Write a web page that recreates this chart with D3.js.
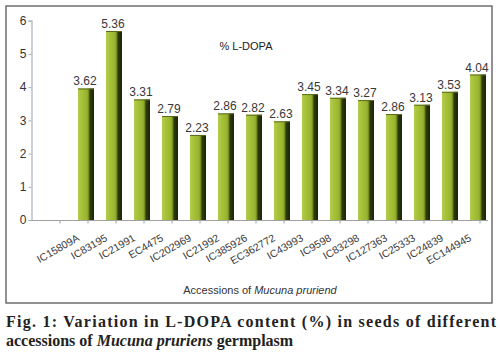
<!DOCTYPE html>
<html>
<head>
<meta charset="utf-8">
<script src="https://cdn.jsdelivr.net/npm/d3@7/dist/d3.min.js"></script>
<style>
  html, body { margin: 0; padding: 0; background: #fff; }
  svg { display: block; }
</style>
</head>
<body>
<svg id="chart" width="500" height="360"></svg>
<script>
// ---- data ----
const categories = ["", "IC15809A", "IC83195", "IC21991", "EC4475", "IC202969", "IC21992",
  "IC385926", "EC362772", "IC43993", "IC9598", "IC83298", "IC127363", "IC25333", "IC24839", "EC144945"];
// bar heights as drawn in the picture (axis units; front face of 3-D columns)
const barHeights = [null, 3.96, 5.69, 3.63, 3.13, 2.56, 3.21, 3.17, 2.97, 3.79, 3.68, 3.61, 3.19, 3.47, 3.86, 4.38];
// printed data labels
const valueLabels = [null, "3.62", "5.36", "3.31", "2.79", "2.23", "2.86", "2.82", "2.63", "3.45", "3.34", "3.27", "2.86", "3.13", "3.53", "4.04"];
const yTicks = [0, 1, 2, 3, 4, 5, 6];
const seriesName = "% L-DOPA";
const xTitle = ["Accessions of ", "Mucuna pruriend"];

const svg = d3.select("#chart");
const font = "Liberation Sans, Arial, sans-serif";

// outer frame
svg.append("rect").attr("x", 6).attr("y", 6).attr("width", 486).attr("height", 297)
  .attr("fill", "#fff").attr("stroke", "#6e6e6e").attr("stroke-width", 1.5);

const x = d3.scaleBand().domain(categories.map((c, i) => i)).range([46, 494]).padding(0);
const y = d3.scaleLinear().domain([0, 6]).range([220, 20.7]);

// gradient for bars
const defs = svg.append("defs");
const g = defs.append("linearGradient").attr("id", "barGrad").attr("x1", "0").attr("x2", "1").attr("y1", "0").attr("y2", "0");
[["0%", "#b3cc4c"], ["25%", "#a6c13a"], ["55%", "#99b42c"], ["62%", "#8aa524"], ["70%", "#5d7418"], ["74%", "#2f3c0e"], ["100%", "#1c2408"]]
  .forEach(([o, c]) => g.append("stop").attr("offset", o).attr("stop-color", c));

// y axis
const yAxis = d3.axisLeft(y).tickValues(yTicks).tickSize(3).tickPadding(2).tickFormat(d3.format("d"));
const ya = svg.append("g").attr("transform", "translate(31.5,0)").call(yAxis);
ya.select(".domain").attr("stroke", "#a9b0c0").attr("stroke-width", 1.2);
ya.selectAll(".tick line").attr("stroke", "#a9b0c0");
ya.selectAll(".tick text").attr("font-family", font).attr("font-size", 12).attr("fill", "#333");

// x axis
const xAxis = d3.axisBottom(x).tickSize(3).tickFormat("");
const xa = svg.append("g").attr("transform", "translate(0,220.5)").call(xAxis);
xa.select(".domain").remove();
xa.selectAll(".tick line").attr("stroke", "#9a9a9a");
svg.append("line").attr("x1", 31.5).attr("x2", 488).attr("y1", 220.5).attr("y2", 220.5)
  .attr("stroke", "#a0a0a0").attr("stroke-width", 1.2);

// bars
const idx = d3.range(categories.length).filter(i => barHeights[i] != null);
svg.append("g").selectAll("rect").data(idx).join("rect")
  .attr("x", i => x(i) + 4)
  .attr("width", 16)
  .attr("y", i => y(barHeights[i]))
  .attr("height", i => y(0) - y(barHeights[i]))
  .attr("fill", "url(#barGrad)");
svg.append("g").selectAll("line").data(idx).join("line")
  .attr("x1", i => x(i) + 4).attr("x2", i => x(i) + 20)
  .attr("y1", i => y(barHeights[i]) + 0.5).attr("y2", i => y(barHeights[i]) + 0.5)
  .attr("stroke", "#5a6a1c").attr("stroke-width", 1);

// value labels
svg.append("g").selectAll("text").data(idx).join("text")
  .attr("x", i => x(i) + 11)
  .attr("y", i => y(barHeights[i]) - 3)
  .attr("text-anchor", "middle")
  .attr("font-family", font).attr("font-size", 12).attr("fill", "#383838")
  .text(i => valueLabels[i]);

// category labels
svg.append("g").selectAll("text").data(idx).join("text")
  .attr("transform", i => `translate(${x(i) + x.bandwidth() / 2 - 8},240) rotate(-30)`)
  .attr("text-anchor", "end")
  .attr("font-family", font).attr("font-size", 10.5).attr("fill", "#383838")
  .text(i => categories[i]);

// series name
svg.append("text").attr("x", 246).attr("y", 50).attr("text-anchor", "middle")
  .attr("font-family", font).attr("font-size", 11).attr("fill", "#222").text(seriesName);

// x title
const xt = svg.append("text").attr("x", 260).attr("y", 294).attr("text-anchor", "middle")
  .attr("font-family", font).attr("font-size", 11).attr("fill", "#333");
xt.append("tspan").text(xTitle[0]);
xt.append("tspan").attr("font-style", "italic").text(xTitle[1]);

// caption
const serif = "Liberation Serif, DejaVu Serif, serif";
svg.append("text").attr("x", 6).attr("y", 327)
  .attr("font-family", serif).attr("font-weight", "bold").attr("font-size", 16).attr("fill", "#222")
  .attr("textLength", 490).attr("lengthAdjust", "spacing")
  .text("Fig. 1: Variation in L-DOPA content (%) in seeds of different");
const c2 = svg.append("text").attr("x", 6).attr("y", 346)
  .attr("font-family", serif).attr("font-weight", "bold").attr("font-size", 16).attr("fill", "#222");
c2.append("tspan").text("accessions of ");
c2.append("tspan").attr("font-style", "italic").text("Mucuna pruriens");
c2.append("tspan").text(" germplasm");
</script>
</body>
</html>
